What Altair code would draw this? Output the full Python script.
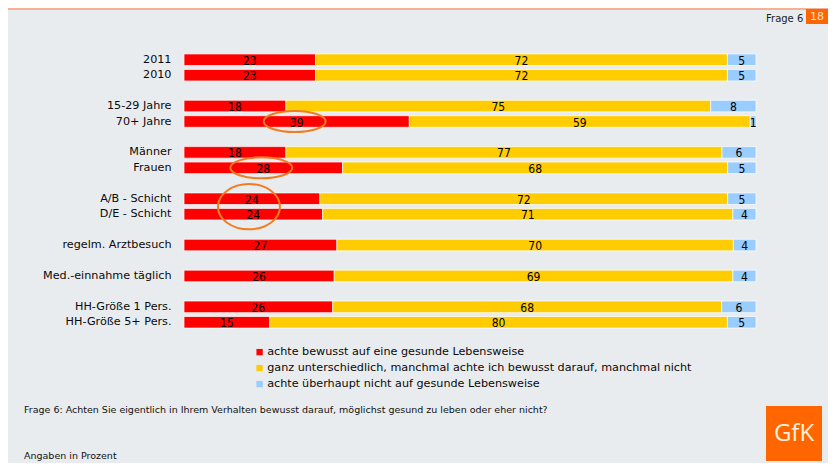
import altair as alt
import pandas as pd

# ---------------- data ----------------
categories = ["2011", "2010", "15-29 Jahre", "70+ Jahre", "Männer", "Frauen",
              "A/B - Schicht", "D/E - Schicht", "regelm. Arztbesuch",
              "Med.-einnahme täglich", "HH-Größe 1 Pers.", "HH-Größe 5+ Pers."]
# row order including empty spacer rows between groups
rows = ["2011", "2010", "_g1", "15-29 Jahre", "70+ Jahre", "_g2", "Männer", "Frauen",
        "_g3", "A/B - Schicht", "D/E - Schicht", "_g4", "regelm. Arztbesuch", "_g5",
        "Med.-einnahme täglich", "_g6", "HH-Größe 1 Pers.", "HH-Größe 5+ Pers."]
series = ["achte bewusst auf eine gesunde Lebensweise",
          "ganz unterschiedlich, manchmal achte ich bewusst darauf, manchmal nicht",
          "achte überhaupt nicht auf gesunde Lebensweise"]
red = [23, 23, 18, 39, 18, 28, 24, 24, 27, 26, 26, 15]
yellow = [72, 72, 75, 59, 77, 68, 72, 71, 70, 69, 68, 80]
blue = [5, 5, 8, 1, 6, 5, 5, 4, 4, 4, 6, 5]
colors = ["#ff0000", "#ffcc00", "#99ccff"]

highlight_single = ["70+ Jahre", "Frauen"]
highlight_pair = ["A/B - Schicht"]   # ring spanning A/B and D/E

question_text = "Frage 6: Achten Sie eigentlich in Ihrem Verhalten bewusst darauf, möglichst gesund zu leben oder eher nicht?"
note_text = "Angaben in Prozent"
header_text = "Frage 6"
page_text = "18"
logo_text = "GfK"

# ---------------- table ----------------
records = []
for i, c in enumerate(categories):
    for k, vals in enumerate([red, yellow, blue]):
        records.append({"cat": c, "series": series[k], "order": k, "value": vals[i]})
df = pd.DataFrame(records)

FONT = "DejaVu Sans"
NUMFONT = "DejaVu Sans Condensed"
ORANGE = "#ff6600"
RING = "#f07d22"

yscale = alt.Scale(domain=rows, paddingInner=0.25, paddingOuter=0.125)
yaxis = alt.Axis(title=None, ticks=False, domain=False, grid=False, labelPadding=13,
                 labelFont=FONT, labelFontSize=11.2, labelColor="#0a0a0a", labelLimit=300,
                 labelExpr="indexof(datum.value, '_g') == 0 ? '' : datum.value")
xscale = alt.Scale(domain=[0, 1])

base = alt.Chart(df).transform_stack(
    stack="value", groupby=["cat"], sort=[alt.SortField("order")],
    as_=["v0", "v1"], offset="normalize"
).transform_calculate(mid="(datum.v0 + datum.v1) / 2")

bars = base.mark_bar(stroke="#ffffff", strokeWidth=0.7).encode(
    x=alt.X("v0:Q", scale=xscale, axis=None),
    x2="v1:Q",
    y=alt.Y("cat:N", scale=yscale, axis=yaxis),
    color=alt.Color("series:N", scale=alt.Scale(domain=series, range=colors),
                    legend=alt.Legend(title=None, orient="none", legendX=70, legendY=294.5,
                                      symbolType="square", symbolSize=40, symbolStrokeWidth=0,
                                      labelFont=FONT, labelFontSize=11.2, labelColor="#0a0a0a",
                                      labelLimit=600, rowPadding=4, labelOffset=2, padding=0)),
    order=alt.Order("order:Q"),
)

labels = base.mark_text(font=NUMFONT, fontSize=12, color="#000000", baseline="middle", dy=1).encode(
    x=alt.X("mid:Q", scale=xscale, axis=None),
    y=alt.Y("cat:N", scale=yscale, axis=yaxis),
    text="value:Q",
)

def ellipse(ry):
    k = 0.5523
    return (f"M -1 0 C -1 {-k*ry:.3f} {-k:.3f} {-ry:.3f} 0 {-ry:.3f} "
            f"C {k:.3f} {-ry:.3f} 1 {-k*ry:.3f} 1 0 "
            f"C 1 {k*ry:.3f} {k:.3f} {ry:.3f} 0 {ry:.3f} "
            f"C {-k:.3f} {ry:.3f} -1 {k*ry:.3f} -1 0 Z")

ring1 = base.transform_filter(alt.datum.order == 0).transform_filter(
    alt.FieldOneOfPredicate(field="cat", oneOf=highlight_single)
).mark_point(shape=ellipse(0.34), size=62 * 62, filled=False, stroke=RING,
             strokeWidth=2, opacity=1, xOffset=-2).encode(
    x=alt.X("mid:Q", scale=xscale, axis=None),
    y=alt.Y("cat:N", scale=yscale, axis=yaxis),
)

ring2 = base.transform_filter(alt.datum.order == 0).transform_filter(
    alt.FieldOneOfPredicate(field="cat", oneOf=highlight_pair)
).mark_point(shape=ellipse(0.73), size=62 * 62, filled=False, stroke=RING,
             strokeWidth=2, opacity=1, yOffset=8, xOffset=-3).encode(
    x=alt.X("mid:Q", scale=xscale, axis=None),
    y=alt.Y("cat:N", scale=yscale, axis=yaxis),
)

# ---------------- page decorations ----------------
one = pd.DataFrame({"k": [0]})
top_line = alt.Chart(one).mark_rule(color="#f3a070", strokeWidth=1.5).encode(
    x=alt.value(-176), x2=alt.value(644), y=alt.value(-43))
header = alt.Chart(pd.DataFrame({"t": [header_text]})).mark_text(
    font=FONT, fontSize=10, align="left", baseline="middle", color="#222222").encode(
    x=alt.value(582), y=alt.value(-33), text="t:N")
page_box = alt.Chart(one).mark_rect(color=ORANGE).encode(
    x=alt.value(622), x2=alt.value(644), y=alt.value(-43), y2=alt.value(-28))
page_num = alt.Chart(pd.DataFrame({"t": [page_text]})).mark_text(
    font=FONT, fontSize=11, align="center", baseline="middle", color="#ffe2c8").encode(
    x=alt.value(633), y=alt.value(-35), text="t:N")
question = alt.Chart(pd.DataFrame({"t": [question_text]})).mark_text(
    font=FONT, fontSize=9.5, align="left", baseline="middle", color="#111111").encode(
    x=alt.value(-160), y=alt.value(358), text="t:N")
note = alt.Chart(pd.DataFrame({"t": [note_text]})).mark_text(
    font=FONT, fontSize=9.5, align="left", baseline="middle", color="#111111").encode(
    x=alt.value(-160), y=alt.value(404), text="t:N")
logo_box = alt.Chart(one).mark_rect(color=ORANGE).encode(
    x=alt.value(582), x2=alt.value(638), y=alt.value(354), y2=alt.value(409))
logo = alt.Chart(pd.DataFrame({"t": [logo_text]})).mark_text(
    font="Open Sans", fontSize=24, align="center", baseline="middle", color="#fff0dc").encode(
    x=alt.value(610), y=alt.value(382), text="t:N")

chart = alt.layer(
    bars, ring1, ring2, labels,
    top_line, header, page_box, page_num, question, note, logo_box, logo,
).properties(
    width=572, height=278,
    autosize=alt.AutoSizeParams(type="none"),
    padding={"left": 176, "top": 44, "right": 72, "bottom": 133},
).configure(background="#e9ecee").configure_view(stroke=None)

chart.save("out.html", embed_options={"renderer": "svg", "actions": False})
